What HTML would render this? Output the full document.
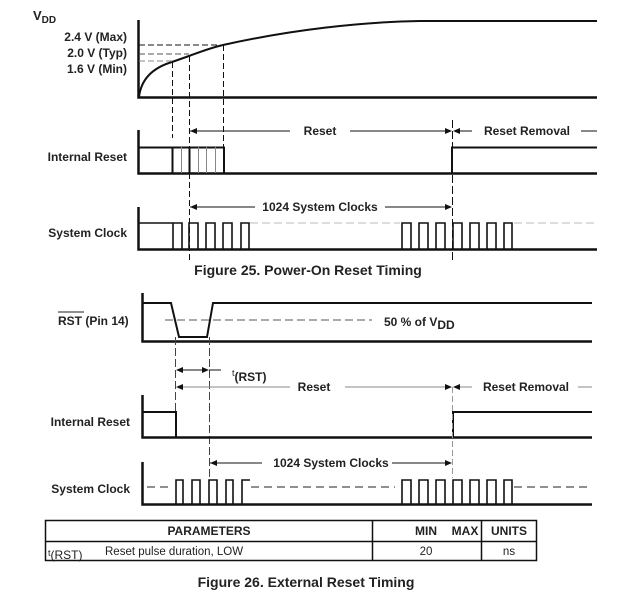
<!DOCTYPE html>
<html><head><meta charset="utf-8"><style>
html,body{margin:0;padding:0;background:#fff;}
svg{display:block;font-family:"Liberation Sans",Arial,sans-serif;}
.b{font-weight:bold;font-size:12px;fill:#222;}
</style></head><body>
<svg width="620" height="606" viewBox="0 0 620 606" xmlns="http://www.w3.org/2000/svg">
<g fill="none" stroke="#111">
<!-- VDD -->
<path d="M138.5 20V97.5H597" stroke-width="2.5"/>
<path d="M139 97 C141 80 152 68 172 62 L189 56 C200 52 210 48 223 45 C290 30 360 22 420 21 L597 21" stroke-width="2"/>
<g stroke-dasharray="6,3" stroke-width="1">
<path d="M139 45H223"/><path d="M139 54H189" stroke="#555"/><path d="M139 61H172" stroke="#888"/>
<path d="M172.5 62V138M189.5 56V260M223.5 45V147"/>
</g>
<!-- Internal reset top -->
<path d="M138.5 130V173.5H597" stroke-width="2.5"/>
<path d="M139 147.5H224V173" stroke-width="2"/>
<path d="M172.5 147V173M189.5 147V173" stroke-width="2"/>
<path d="M181.5 147V173M198.5 147V173M206.5 147V173M215.5 147V173" stroke="#888" stroke-width="1"/>
<path d="M452 173.5V147.5H597" stroke-width="2"/>
<path d="M452.5 120V260" stroke-dasharray="8,3" stroke-width="1"/>
<!-- reset arrows -->
<path d="M190 131H290M350 131H446M458 131H472M581 131H597" stroke-width="1"/>
<!-- clock top -->
<path d="M138.5 207V249.5H597" stroke-width="2.5"/>
<path d="M139 223H173V249M173 249V223H182V249M189 249V223H198V249M206 249V223H215V249M223 249V223H232V249M241 249V223H249V249" stroke-width="1.6"/>
<path d="M402 249V223H411V249M419 249V223H428V249M436 249V223H445V249M453 249V223H462V249M470 249V223H479V249M487 249V223H496V249M504 249V223H512V249" stroke-width="1.6"/>
<path d="M250 223H400M514 223H597" stroke="#bbb" stroke-dasharray="8,4" stroke-width="1"/>
<path d="M190 207H255M385 207H446" stroke-width="1"/>
<!-- RST -->
<path d="M142.5 293V341.5H592" stroke-width="2.5"/>
<path d="M143 303H171L179 337H207L213 303H592" stroke-width="2"/>
<path d="M165 320H372" stroke="#555" stroke-dasharray="8,4" stroke-width="1"/>
<path d="M175.5 337V437M209.5 337V478" stroke="#444" stroke-dasharray="8,3" stroke-width="1"/>
<path d="M177 370H207M209 370H221" stroke-width="1"/>
<path d="M177 387H290M345 387H446M458 387H472M578 387H592" stroke="#888" stroke-width="1"/>
<!-- internal reset bottom -->
<path d="M142.5 395V437.5H592" stroke-width="2.5"/>
<path d="M143 412H176V437M453 437V412H592" stroke-width="2"/>
<path d="M452.5 387V478" stroke="#999" stroke-dasharray="6,3" stroke-width="1"/>
<!-- clock bottom -->
<path d="M142.5 462V504.5H592" stroke-width="2.5"/>
<path d="M176 504V480H183V504M192 504V480H200V504M209 504V480H217V504M226 504V480H233V504M242 504V480H250" stroke-width="1.6"/>
<path d="M402 504V480H411V504M419 504V480H428V504M436 504V480H445V504M453 504V480H462V504M470 504V480H479V504M487 504V480H496V504M504 504V480H512V504" stroke-width="1.6"/>
<path d="M147 487H173M251 487H395M514 487H592" stroke="#222" stroke-dasharray="8,5" stroke-width="1"/>
<path d="M210 463H262M392 463H446" stroke-width="1"/>
<!-- table -->
<rect x="45.5" y="520.5" width="491" height="40" stroke-width="1.5"/>
<path d="M46 541.5H536M372.5 520V561M481.5 520V561" stroke-width="1.5"/>
</g>
<g fill="#111">
<path d="M190 131l7-3v6zM452 131l-7-3v6zM453 131l7-3v6z"/>
<path d="M190 207l7-3v6zM452 207l-7-3v6z"/>
<path d="M176 370l7-3v6zM209 370l-7-3v6zM176 387l7-3v6zM452 387l-7-3v6zM453 387l7-3v6z"/>
<path d="M210 463l7-3v6zM452 463l-7-3v6z"/>
</g>
<g class="b">
<text x="33" y="20" font-size="13">V<tspan font-size="10" dy="3">DD</tspan></text>
<text x="127" y="41" text-anchor="end">2.4 V (Max)</text>
<text x="127" y="57" text-anchor="end">2.0 V (Typ)</text>
<text x="127" y="73" text-anchor="end">1.6 V (Min)</text>
<text x="127" y="161" text-anchor="end">Internal Reset</text>
<text x="127" y="237" text-anchor="end">System Clock</text>
<text x="320" y="135" text-anchor="middle">Reset</text>
<text x="527" y="135" text-anchor="middle">Reset Removal</text>
<text x="320" y="211" text-anchor="middle">1024 System Clocks</text>
<text x="308" y="275" text-anchor="middle" font-size="14">Figure 25. Power-On Reset Timing</text>
<text x="58" y="325">RST (Pin 14)</text>
<path d="M58 312H84" stroke="#222" stroke-width="1"/>
<text x="384" y="326">50 % of V<tspan dy="3">DD</tspan></text>
<text x="232" y="376" font-weight="normal" font-size="9">t<tspan font-size="12" font-weight="bold" dy="5">(RST)</tspan></text>
<text x="314" y="391" text-anchor="middle">Reset</text>
<text x="526" y="391" text-anchor="middle">Reset Removal</text>
<text x="130" y="426" text-anchor="end">Internal Reset</text>
<text x="130" y="493" text-anchor="end">System Clock</text>
<text x="331" y="467" text-anchor="middle">1024 System Clocks</text>
<text x="209" y="535" text-anchor="middle">PARAMETERS</text>
<text x="426" y="535" text-anchor="middle">MIN</text>
<text x="465" y="535" text-anchor="middle">MAX</text>
<text x="509" y="535" text-anchor="middle">UNITS</text>
<text x="48" y="556" font-weight="normal" font-size="9">t<tspan font-size="12" dy="3">(RST)</tspan></text>
<text x="105" y="555" font-weight="normal" font-size="11.5">Reset pulse duration, LOW</text>
<text x="426" y="555" font-weight="normal" text-anchor="middle" font-size="11.5">20</text>
<text x="509" y="555" font-weight="normal" text-anchor="middle" font-size="11.5">ns</text>
<text x="306" y="587" text-anchor="middle" font-size="14">Figure 26. External Reset Timing</text>
</g>
</svg>
</body></html>
